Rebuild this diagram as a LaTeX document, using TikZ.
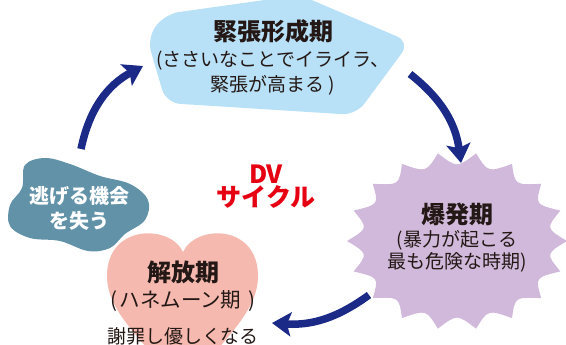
\documentclass[tikz,border=0pt]{standalone}
\usepackage{fontspec}
\setmainfont{Noto Sans CJK JP}
\usetikzlibrary{arrows.meta, positioning}
\usepackage{xcolor}

\definecolor{tenseblue}{HTML}{B8E0F6}
\definecolor{burstpurple}{HTML}{D0B9DA}
\definecolor{heartpink}{HTML}{F5B9AF}
\definecolor{blobteal}{HTML}{6192A8}
\definecolor{arrownavy}{HTML}{1B2A87}
\definecolor{dvred}{HTML}{E50012}
\definecolor{inkdark}{HTML}{231815}

\tikzset{
  phase/.style={inner sep=0pt, text=inkdark, font=\bfseries\fontsize{24}{27}\selectfont},
  note/.style={inner sep=0pt, text=inkdark, align=center, font=\fontsize{19}{25}\selectfont},
  cyclearrow/.style={->, line width=7.5pt, draw=arrownavy},
}

\begin{document}
\begin{tikzpicture}[x=1pt, y=-1pt, >={Stealth[length=19pt,width=24pt,inset=4pt]}]
    \useasboundingbox (0,0) rectangle (566,345);
    \clip (0,0) rectangle (566,345);

    % shapes
    \fill[tenseblue, rounded corners=14pt] (147,38) -- (165,14) -- (300,-5) -- (410,42)
        -- (356,115) -- (166,103) -- cycle;
    \fill[burstpurple] (567,241) \foreach \i in {1,...,18} {
        .. controls ({457+0.82*110*cos((\i-0.5)*20)},{241+0.82*89*sin((\i-0.5)*20)})
        .. ({457+110*cos(\i*20)},{241+89*sin(\i*20)}) } -- cycle;
    \fill[heartpink] (183,252) .. controls (170,224) and (107,224) .. (107,276)
        .. controls (107,320) and (160,350) .. (183,400)
        .. controls (206,350) and (258,320) .. (258,276)
        .. controls (258,224) and (196,224) .. (183,252) -- cycle;
    \fill[blobteal] plot[smooth cycle, tension=0.6] coordinates {(25,165) (45,158) (70,164)
        (100,176) (130,184) (148,200) (145,220) (125,234) (110,248) (88,251) (60,241)
        (30,238) (10,226) (10,205) (22,188)};

    % texts
    \node[phase] (tension) at (273,31) {緊張形成期};
    \node[note] (tension_note) [below=8pt of tension] {(ささいなことでイライラ、\\緊張が高まる )};
    \node[phase] (explosion) at (457,214) {爆発期};
    \node[note, font=\fontsize{19}{22}\selectfont] (explosion_note) [below=5pt of explosion]
        {(暴力が起こる\\最も危険な時期)};
    \node[phase] (honeymoon) at (183,272) {解放期};
    \node[note, font=\fontsize{20.5}{25}\selectfont] (honeymoon_note) [below=7pt of honeymoon]
        {(\hspace{2pt}ハネムーン期\hspace{7pt})};
    \node[note] (apology) [below=15pt of honeymoon_note] {謝罪し優しくなる};
    \node[inner sep=0pt, text=white, align=center, font=\bfseries\fontsize{20}{25}\selectfont]
        (no_escape) at (80,208) {逃げる機会\\を失う};
    \node[inner sep=0pt, text=dvred, align=center, font=\bfseries\fontsize{25}{23}\selectfont]
        (dv_cycle) at (266,187) {DV\\サイクル};

    % arrows
    \coordinate (escape_start) at (81,149);
    \coordinate (tension_end) at (143,66);
    \coordinate (tension_start) at (410,74);
    \coordinate (explosion_end) at (461,163);
    \coordinate (explosion_start) at (369,295);
    \coordinate (honeymoon_end) at (272,323);

    \draw[cyclearrow] (escape_start) to[bend left=25] (tension_end);
    \draw[cyclearrow] (tension_start) to[bend left=22] (explosion_end);
    \draw[cyclearrow] (explosion_start) to[bend left=20] (honeymoon_end);
\end{tikzpicture}
\end{document}
